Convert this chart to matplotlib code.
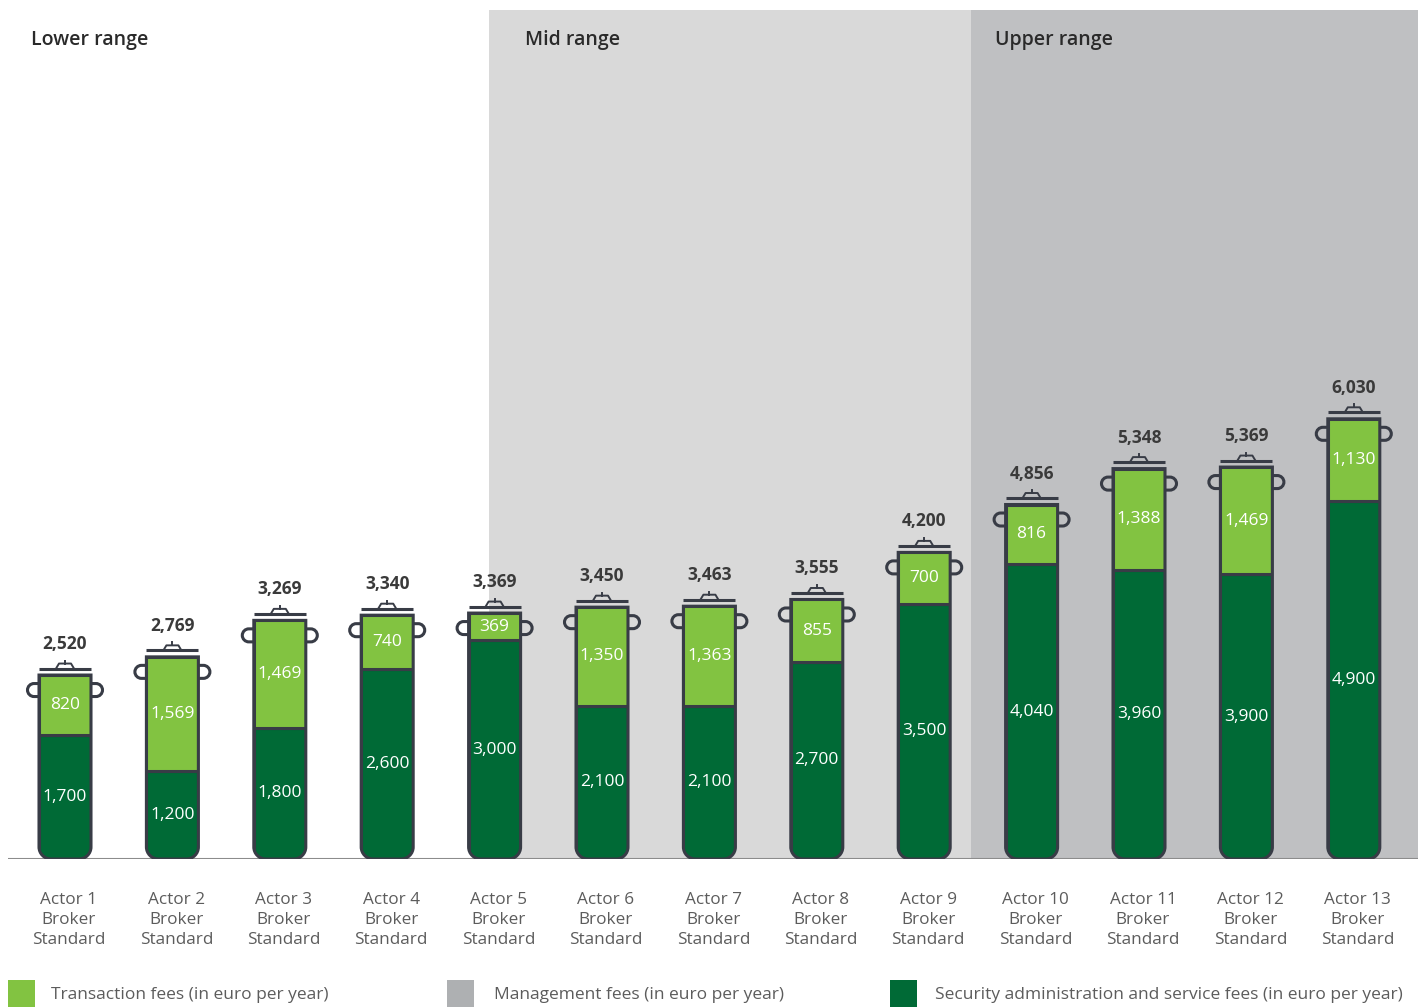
import matplotlib
matplotlib.use("Agg")
import matplotlib.pyplot as plt
from matplotlib.path import Path
from matplotlib.patches import PathPatch, Rectangle

plt.rcParams['font.family'] = ['Open Sans', 'DejaVu Sans']

# ---------------- data ----------------
actors = ["Actor 1", "Actor 2", "Actor 3", "Actor 4", "Actor 5", "Actor 6", "Actor 7",
          "Actor 8", "Actor 9", "Actor 10", "Actor 11", "Actor 12", "Actor 13"]
product = "Broker\nStandard"
security_fees = [1700, 1200, 1800, 2600, 3000, 2100, 2100, 2700, 3500, 4040, 3960, 3900, 4900]
transaction_fees = [820, 1569, 1469, 740, 369, 1350, 1363, 855, 700, 816, 1388, 1469, 1130]
totals = [2520, 2769, 3269, 3340, 3369, 3450, 3463, 3555, 4200, 4856, 5348, 5369, 6030]
range_names = ["Lower range", "Mid range", "Upper range"]
legend_labels = ["Transaction fees (in euro per year)",
                 "Management fees (in euro per year)",
                 "Security administration and service fees (in euro per year)"]

# ---------------- style ----------------
DARK = "#006a36"
LIGHT = "#82c341"
EDGE = "#383c46"
MGMT = "#aeb0b2"
MID_BG = "#d9d9d9"
UP_BG = "#bfc0c2"
TXT = "#3a3a3a"
LBL = "#5c5c5c"

W, H = 1424, 1007
fig = plt.figure(figsize=(W / 100, H / 100), dpi=100)
ax_l, ax_r, ax_t, ax_b = 8, 1418, 10, 859
ax = fig.add_axes([ax_l / W, (H - ax_b) / H, (ax_r - ax_l) / W, (ax_b - ax_t) / H])
ax.set_axis_off()

first_px, step_px = 65, 107.4
xmin = (ax_l - first_px) / step_px
xmax = (ax_r - first_px) / step_px
px_per_y = 0.073
ymax = (ax_b - ax_t) / px_per_y
ax.set_xlim(xmin, xmax)
ax.set_ylim(0, ymax)


def px_x(p):
    return p / step_px


def px_y(p):
    return p / px_per_y


# background regions
mid_start = (489 - first_px) / step_px
up_start = (971 - first_px) / step_px
ax.axvspan(mid_start, up_start, color=MID_BG, zorder=0, lw=0)
ax.axvspan(up_start, xmax, color=UP_BG, zorder=0, lw=0)
ax.axhline(0, color="#8c8c8c", lw=1.5, zorder=1)

header_x = [xmin + px_x(23), mid_start + px_x(36), up_start + px_x(24)]
for hx, name in zip(header_x, range_names):
    ax.text(hx, ymax - px_y(30), name, fontsize=14, fontweight="semibold",
            color="#2a2a2a", ha="left", va="center")

bw = px_x(52)
rx, ry = px_x(12), px_y(12)
k = 0.5523
lw_edge = 2.2


def handle_path(xe, yc, direction):
    # a "D" shaped loop attached to the jar wall at xe, opening towards the jar
    a = px_x(5) * direction
    r_x = px_x(6.5) * direction
    r_y = px_y(6.5)
    verts = [(xe, yc + r_y), (xe + a, yc + r_y),
             (xe + a + r_x * k, yc + r_y), (xe + a + r_x, yc + r_y * k), (xe + a + r_x, yc),
             (xe + a + r_x, yc - r_y * k), (xe + a + r_x * k, yc - r_y), (xe + a, yc - r_y),
             (xe, yc - r_y)]
    codes = [Path.MOVETO, Path.LINETO,
             Path.CURVE4, Path.CURVE4, Path.CURVE4,
             Path.CURVE4, Path.CURVE4, Path.CURVE4,
             Path.LINETO]
    return Path(verts, codes)


for i, (d, l, t) in enumerate(zip(security_fees, transaction_fees, totals)):
    left, right = i - bw / 2, i + bw / 2
    verts = [(left, t), (left, ry),
             (left, ry * (1 - k)), (left + rx * (1 - k), 0), (left + rx, 0),
             (right - rx, 0),
             (right - rx * (1 - k), 0), (right, ry * (1 - k)), (right, ry),
             (right, t), (left, t)]
    codes = [Path.MOVETO, Path.LINETO,
             Path.CURVE4, Path.CURVE4, Path.CURVE4,
             Path.LINETO,
             Path.CURVE4, Path.CURVE4, Path.CURVE4,
             Path.LINETO, Path.CLOSEPOLY]
    jar = PathPatch(Path(verts, codes), facecolor="none", edgecolor=EDGE,
                    lw=lw_edge, zorder=5, transform=ax.transData)
    ax.add_patch(jar)
    b1 = ax.bar(i, d, bw, color=DARK, edgecolor=EDGE, lw=lw_edge, zorder=3)
    b2 = ax.bar(i, l, bw, bottom=d, color=LIGHT, edgecolor=EDGE, lw=lw_edge, zorder=3)
    for b in list(b1) + list(b2):
        b.set_clip_path(jar)

    # handles
    hy = t - px_y(15)
    ax.add_patch(PathPatch(handle_path(left, hy, -1), facecolor="none", edgecolor=EDGE,
                           lw=lw_edge, zorder=4))
    ax.add_patch(PathPatch(handle_path(right, hy, 1), facecolor="none", edgecolor=EDGE,
                           lw=lw_edge, zorder=4))
    # lid
    lid_y = t + px_y(6.5)
    ax.plot([left, right], [lid_y, lid_y], color=EDGE, lw=2.2, solid_capstyle="butt", zorder=5)
    knob = [(i - px_x(9), lid_y), (i - px_x(6), lid_y + px_y(5)),
            (i + px_x(6), lid_y + px_y(5)), (i + px_x(9), lid_y)]
    ax.plot([p[0] for p in knob], [p[1] for p in knob], color=EDGE, lw=1.4,
            solid_joinstyle="round", zorder=5)
    ax.plot([i, i], [lid_y + px_y(5), lid_y + px_y(8)], color=EDGE, lw=1.4, zorder=5)

    # labels
    ax.text(i, t + px_y(31), f"{t:,}", ha="center", va="center", fontsize=12.5,
            fontweight="bold", color=TXT, zorder=6)
    ax.text(i, d + l / 2, f"{l:,}", ha="center", va="center", fontsize=12.5,
            color="white", zorder=6)
    ax.text(i, d / 2, f"{d:,}", ha="center", va="center", fontsize=12.5,
            color="white", zorder=6)
    ax.text(i + px_x(4), -px_y(61), f"{actors[i]}\n{product}", ha="center", va="center",
            fontsize=12.3, color=LBL, linespacing=1.36, clip_on=False)

# legend
leg_sq_x = [8, 447, 890]
leg_txt_x = [51, 494, 935]
leg_colors = [LIGHT, MGMT, DARK]
for sx, tx, c, lab in zip(leg_sq_x, leg_txt_x, leg_colors, legend_labels):
    fig.add_artist(Rectangle((sx / W, 0), 27 / W, 27 / H, transform=fig.transFigure,
                             facecolor=c, edgecolor="none"))
    fig.text(tx / W, (H - 995) / H, lab, ha="left", va="center", fontsize=12.5, color=LBL)

fig.savefig("out.png", dpi=100)
